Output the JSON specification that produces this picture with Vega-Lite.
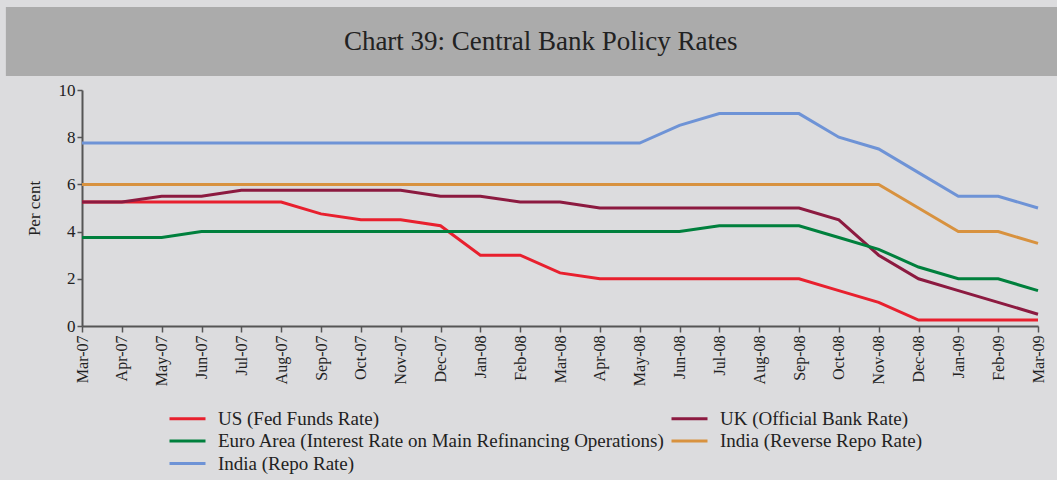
{
  "$schema": "https://vega.github.io/schema/vega-lite/v6.json",
  "background": "#dcdcde",
  "padding": {"left": 5, "top": 7, "right": 0, "bottom": 12},
  "spacing": 5,
  "config": {
    "font": "Liberation Serif",
    "view": {"stroke": null},
    "axis": {"labelFont": "Liberation Serif", "titleFont": "Liberation Serif", "labelColor": "#222", "titleColor": "#222"},
    "legend": {"labelFont": "Liberation Serif", "labelColor": "#222"}
  },
  "vconcat": [
    {
      "width": 976,
      "height": 69,
      "data": {"values": [{"title": "Chart 39: Central Bank Policy Rates"}]},
      "layer": [
        {
          "mark": {"type": "rect", "color": "#ababab", "clip": false},
          "encoding": {
            "x": {"datum": -0.078, "type": "quantitative", "scale": {"domain": [0, 1]}, "axis": null},
            "x2": {"datum": 1.0}
          }
        },
        {
          "mark": {"type": "text", "fontSize": 27, "font": "Liberation Serif", "color": "#222", "align": "center", "baseline": "middle"},
          "encoding": {
            "x": {"datum": 0.47, "type": "quantitative", "scale": {"domain": [0, 1]}, "axis": null},
            "text": {"field": "title"}
          }
        }
      ]
    },
    {
      "width": 956,
      "height": 236,
      "data": {
        "values": [
          {"month": "Mar-07", "US (Fed Funds Rate)": 5.25, "UK (Official Bank Rate)": 5.25, "Euro Area (Interest Rate on Main Refinancing Operations)": 3.75, "India (Reverse Repo Rate)": 6.0, "India (Repo Rate)": 7.75},
          {"month": "Apr-07", "US (Fed Funds Rate)": 5.25, "UK (Official Bank Rate)": 5.25, "Euro Area (Interest Rate on Main Refinancing Operations)": 3.75, "India (Reverse Repo Rate)": 6.0, "India (Repo Rate)": 7.75},
          {"month": "May-07", "US (Fed Funds Rate)": 5.25, "UK (Official Bank Rate)": 5.5, "Euro Area (Interest Rate on Main Refinancing Operations)": 3.75, "India (Reverse Repo Rate)": 6.0, "India (Repo Rate)": 7.75},
          {"month": "Jun-07", "US (Fed Funds Rate)": 5.25, "UK (Official Bank Rate)": 5.5, "Euro Area (Interest Rate on Main Refinancing Operations)": 4.0, "India (Reverse Repo Rate)": 6.0, "India (Repo Rate)": 7.75},
          {"month": "Jul-07", "US (Fed Funds Rate)": 5.25, "UK (Official Bank Rate)": 5.75, "Euro Area (Interest Rate on Main Refinancing Operations)": 4.0, "India (Reverse Repo Rate)": 6.0, "India (Repo Rate)": 7.75},
          {"month": "Aug-07", "US (Fed Funds Rate)": 5.25, "UK (Official Bank Rate)": 5.75, "Euro Area (Interest Rate on Main Refinancing Operations)": 4.0, "India (Reverse Repo Rate)": 6.0, "India (Repo Rate)": 7.75},
          {"month": "Sep-07", "US (Fed Funds Rate)": 4.75, "UK (Official Bank Rate)": 5.75, "Euro Area (Interest Rate on Main Refinancing Operations)": 4.0, "India (Reverse Repo Rate)": 6.0, "India (Repo Rate)": 7.75},
          {"month": "Oct-07", "US (Fed Funds Rate)": 4.5, "UK (Official Bank Rate)": 5.75, "Euro Area (Interest Rate on Main Refinancing Operations)": 4.0, "India (Reverse Repo Rate)": 6.0, "India (Repo Rate)": 7.75},
          {"month": "Nov-07", "US (Fed Funds Rate)": 4.5, "UK (Official Bank Rate)": 5.75, "Euro Area (Interest Rate on Main Refinancing Operations)": 4.0, "India (Reverse Repo Rate)": 6.0, "India (Repo Rate)": 7.75},
          {"month": "Dec-07", "US (Fed Funds Rate)": 4.25, "UK (Official Bank Rate)": 5.5, "Euro Area (Interest Rate on Main Refinancing Operations)": 4.0, "India (Reverse Repo Rate)": 6.0, "India (Repo Rate)": 7.75},
          {"month": "Jan-08", "US (Fed Funds Rate)": 3.0, "UK (Official Bank Rate)": 5.5, "Euro Area (Interest Rate on Main Refinancing Operations)": 4.0, "India (Reverse Repo Rate)": 6.0, "India (Repo Rate)": 7.75},
          {"month": "Feb-08", "US (Fed Funds Rate)": 3.0, "UK (Official Bank Rate)": 5.25, "Euro Area (Interest Rate on Main Refinancing Operations)": 4.0, "India (Reverse Repo Rate)": 6.0, "India (Repo Rate)": 7.75},
          {"month": "Mar-08", "US (Fed Funds Rate)": 2.25, "UK (Official Bank Rate)": 5.25, "Euro Area (Interest Rate on Main Refinancing Operations)": 4.0, "India (Reverse Repo Rate)": 6.0, "India (Repo Rate)": 7.75},
          {"month": "Apr-08", "US (Fed Funds Rate)": 2.0, "UK (Official Bank Rate)": 5.0, "Euro Area (Interest Rate on Main Refinancing Operations)": 4.0, "India (Reverse Repo Rate)": 6.0, "India (Repo Rate)": 7.75},
          {"month": "May-08", "US (Fed Funds Rate)": 2.0, "UK (Official Bank Rate)": 5.0, "Euro Area (Interest Rate on Main Refinancing Operations)": 4.0, "India (Reverse Repo Rate)": 6.0, "India (Repo Rate)": 7.75},
          {"month": "Jun-08", "US (Fed Funds Rate)": 2.0, "UK (Official Bank Rate)": 5.0, "Euro Area (Interest Rate on Main Refinancing Operations)": 4.0, "India (Reverse Repo Rate)": 6.0, "India (Repo Rate)": 8.5},
          {"month": "Jul-08", "US (Fed Funds Rate)": 2.0, "UK (Official Bank Rate)": 5.0, "Euro Area (Interest Rate on Main Refinancing Operations)": 4.25, "India (Reverse Repo Rate)": 6.0, "India (Repo Rate)": 9.0},
          {"month": "Aug-08", "US (Fed Funds Rate)": 2.0, "UK (Official Bank Rate)": 5.0, "Euro Area (Interest Rate on Main Refinancing Operations)": 4.25, "India (Reverse Repo Rate)": 6.0, "India (Repo Rate)": 9.0},
          {"month": "Sep-08", "US (Fed Funds Rate)": 2.0, "UK (Official Bank Rate)": 5.0, "Euro Area (Interest Rate on Main Refinancing Operations)": 4.25, "India (Reverse Repo Rate)": 6.0, "India (Repo Rate)": 9.0},
          {"month": "Oct-08", "US (Fed Funds Rate)": 1.5, "UK (Official Bank Rate)": 4.5, "Euro Area (Interest Rate on Main Refinancing Operations)": 3.75, "India (Reverse Repo Rate)": 6.0, "India (Repo Rate)": 8.0},
          {"month": "Nov-08", "US (Fed Funds Rate)": 1.0, "UK (Official Bank Rate)": 3.0, "Euro Area (Interest Rate on Main Refinancing Operations)": 3.25, "India (Reverse Repo Rate)": 6.0, "India (Repo Rate)": 7.5},
          {"month": "Dec-08", "US (Fed Funds Rate)": 0.25, "UK (Official Bank Rate)": 2.0, "Euro Area (Interest Rate on Main Refinancing Operations)": 2.5, "India (Reverse Repo Rate)": 5.0, "India (Repo Rate)": 6.5},
          {"month": "Jan-09", "US (Fed Funds Rate)": 0.25, "UK (Official Bank Rate)": 1.5, "Euro Area (Interest Rate on Main Refinancing Operations)": 2.0, "India (Reverse Repo Rate)": 4.0, "India (Repo Rate)": 5.5},
          {"month": "Feb-09", "US (Fed Funds Rate)": 0.25, "UK (Official Bank Rate)": 1.0, "Euro Area (Interest Rate on Main Refinancing Operations)": 2.0, "India (Reverse Repo Rate)": 4.0, "India (Repo Rate)": 5.5},
          {"month": "Mar-09", "US (Fed Funds Rate)": 0.25, "UK (Official Bank Rate)": 0.5, "Euro Area (Interest Rate on Main Refinancing Operations)": 1.5, "India (Reverse Repo Rate)": 3.5, "India (Repo Rate)": 5.0}
        ]
      },
      "transform": [
        {"fold": ["US (Fed Funds Rate)", "UK (Official Bank Rate)", "Euro Area (Interest Rate on Main Refinancing Operations)", "India (Reverse Repo Rate)", "India (Repo Rate)"], "as": ["series", "rate"]}
      ],
      "mark": {"type": "line", "strokeWidth": 3, "interpolate": "linear"},
      "encoding": {
        "x": {
          "field": "month", "type": "ordinal", "sort": null,
          "scale": {"type": "point", "padding": 0},
          "axis": {"title": null, "labelAngle": -90, "labelFontSize": 16, "labelPadding": 3, "labelBaseline": "middle", "tickSize": 6, "tickColor": "#555", "tickWidth": 1.5, "domainColor": "#555", "domainWidth": 2, "grid": false}
        },
        "y": {
          "field": "rate", "type": "quantitative",
          "scale": {"domain": [0, 10], "nice": false},
          "axis": {"title": "Per cent", "titleFontSize": 17, "titleFontWeight": "normal", "titlePadding": 15, "values": [0, 2, 4, 6, 8, 10], "labelFontSize": 17, "labelPadding": 2, "tickSize": 5, "tickColor": "#555", "tickWidth": 1.5, "domainColor": "#555", "domainWidth": 2, "grid": false}
        },
        "color": {
          "field": "series", "type": "nominal",
          "scale": {
            "domain": ["US (Fed Funds Rate)", "Euro Area (Interest Rate on Main Refinancing Operations)", "India (Repo Rate)", "UK (Official Bank Rate)", "India (Reverse Repo Rate)"],
            "range": ["#e8202e", "#00803d", "#6e93d6", "#8c1a40", "#d8923f"]
          },
          "legend": {
            "title": null, "orient": "none", "legendX": 86, "legendY": 401, "columns": 2, "columnPadding": 0, "rowPadding": 1.5,
            "symbolType": "M-1,0H3", "symbolSize": 324, "symbolStrokeWidth": 3, "labelOffset": 29, "labelFontSize": 19, "labelLimit": 700
          }
        }
      }
    }
  ]
}
